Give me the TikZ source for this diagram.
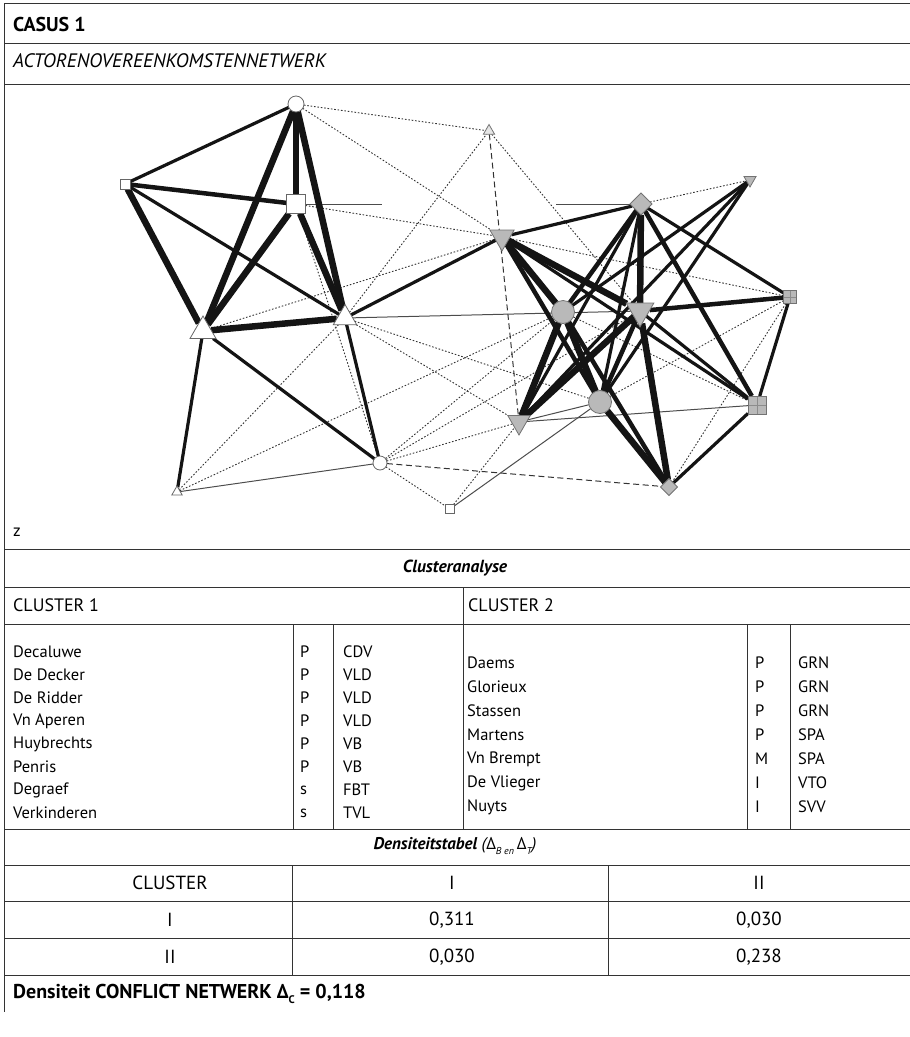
\documentclass[tikz,border=0pt]{standalone}
\usepackage{fontspec}
\setmainfont{PT Sans}
\usetikzlibrary{shapes.geometric}
\pgfdeclarelayer{bg}
\pgfsetlayers{bg,main}
\begin{document}
\begin{tikzpicture}[x=1pt,y=-1pt,
  rule/.style={draw=black!80, line width=0.9pt},
  ew1/.style={draw=black!70, line width=1pt},
  ew3/.style={draw=black!92, line width=3.2pt},
  ew4/.style={draw=black!92, line width=4.5pt},
  ew5/.style={draw=black!92, line width=6.5pt},
  edot/.style={draw=black!80, line width=0.9pt, dash pattern=on 1.6pt off 1.8pt},
  edsh/.style={draw=black!80, line width=1pt, dash pattern=on 6pt off 3.5pt},
  wnode/.style={draw=black!60, fill=white, line width=0.8pt, inner sep=0pt, outer sep=0pt},
  gnode/.style={draw=black!55, fill=gray!55, line width=0.8pt, inner sep=0pt, outer sep=0pt},
  lnode/.style={draw=black!55, fill=gray!20, line width=0.8pt, inner sep=0pt, outer sep=0pt},
  circ/.style={circle, minimum size=#1},
  sq/.style={rectangle, minimum size=#1},
  triup/.style={regular polygon, regular polygon sides=3, minimum size=#1},
  tridn/.style={regular polygon, regular polygon sides=3, shape border rotate=180, minimum size=#1},
  dia/.style={diamond, minimum size=#1},
  grid/.style={path picture={\draw[black!45, line width=0.6pt]
      (path picture bounding box.north) -- (path picture bounding box.south)
      (path picture bounding box.west) -- (path picture bounding box.east);}},
  txt/.style={font=\fontsize{16.5}{19}\selectfont, inner sep=0pt, anchor=west},
  ctxt/.style={font=\fontsize{19}{22}\selectfont, inner sep=0pt}
]
\useasboundingbox (0,0) rectangle (910,1037);

% ---------- network nodes ----------
\node[wnode, circ=16pt] (A) at (296,104) {};
\node[wnode, sq=10pt] (B) at (125,184) {};
\node[wnode, sq=19pt] (C) at (296,204) {};
\node[wnode, triup=30pt] (D) at (203,331) {};
\node[wnode, triup=27pt] (E) at (345,318) {};
\node[wnode, triup=12pt] (F) at (177,492) {};
\node[wnode, circ=14pt] (G) at (380,463) {};
\node[wnode, sq=9pt] (H) at (450,509) {};
\node[lnode, triup=13pt] (I) at (489,131) {};
\node[gnode, tridn=28pt] (J) at (502,237) {};
\node[gnode, dia=22pt] (K) at (641,204) {};
\node[gnode, tridn=14pt] (L) at (750,180) {};
\node[gnode, circ=23pt] (M) at (563,312) {};
\node[gnode, tridn=32pt] (N) at (640,311) {};
\node[gnode, sq=13pt, grid] (O) at (790,297) {};
\node[gnode, circ=23pt] (P) at (600,402) {};
\node[gnode, tridn=26pt] (Q) at (519,422) {};
\node[gnode, sq=18pt, grid] (R) at (757,405) {};
\node[gnode, dia=17pt] (S) at (669,487) {};
\coordinate (cstub) at (382,204);
\coordinate (kstub) at (556,204);

% ---------- network edges ----------
\begin{pgfonlayer}{bg}
\foreach \a/\b in {A/I, A/J, C/J, D/J, E/I, C/G, F/E, F/M, E/P, E/Q, G/M, G/N, G/Q, G/H, H/Q, I/N, J/O, K/L, O/P, O/S, M/R}
  \draw[edot] (\a) -- (\b);
\draw[edsh] (G) -- (S);
\draw[edsh] (I) -- (Q);
\foreach \a/\b in {F/G, C/cstub, kstub/K, E/N, H/P, Q/R, Q/P}
  \draw[ew1] (\a) -- (\b);
\foreach \a/\b in {A/B, B/E, D/F, D/G, E/G, E/J, J/K, K/O, K/Q, K/P, L/M, L/Q, L/P, R/O, R/S, N/R, J/R}
  \draw[ew3] (\a) -- (\b);
\foreach \a/\b in {B/C, J/P, K/M, K/R, N/O, M/S, N/P}
  \draw[ew4] (\a) -- (\b);
\foreach \a/\b in {A/C, A/D, A/E, B/D, C/D, C/E, D/E, J/M, J/N, K/N, M/Q, M/P, N/Q, N/S, P/S}
  \draw[ew5] (\a) -- (\b);
\end{pgfonlayer}

% ---------- frame and rules ----------
\coordinate (tl) at (4,3);
\coordinate (bl) at (4,1012);
\draw[rule] (tl) -- (bl);
\foreach \y in {3,43,84,549,587,624,829,865,901,938,975}
  \draw[rule] (4,\y) -- (910,\y);
\draw[rule] (463,587) -- (463,829);
\foreach \x in {293,333,747,790}
  \draw[rule] (\x,624) -- (\x,829);
\foreach \x in {292,608}
  \draw[rule] (\x,865) -- (\x,975);

% ---------- texts ----------
\node[txt, font=\fontsize{20}{24}\selectfont\bfseries] (t1) at (13,24) {CASUS 1};
\node[txt, font=\fontsize{19.5}{24}\selectfont\itshape] (t2) at (13,61) {ACTORENOVEREENKOMSTENNETWERK};
\node[txt, font=\fontsize{17}{20}\selectfont] (tz) at (13,532) {z};
\node[ctxt, font=\fontsize{17.5}{20}\selectfont\bfseries\itshape] (t3) at (455,568) {Clusteranalyse};
\node[txt, font=\fontsize{18}{20}\selectfont] (c1) at (13,605) {CLUSTER 1};
\node[txt, font=\fontsize{18}{20}\selectfont] (c2) at (468,605) {CLUSTER 2};

\foreach \n/\r/\p [count=\i from 0] in {Decaluwe/P/CDV, De Decker/P/VLD, De Ridder/P/VLD, Vn Aperen/P/VLD, Huybrechts/P/VB, Penris/P/VB, Degraef/s/FBT, Verkinderen/s/TVL}{
  \node[txt] (ln\i) at (13,652+23*\i) {\n};
  \node[txt] (lr\i) at (300,652+23*\i) {\r};
  \node[txt] (lp\i) at (343,652+23*\i) {\p};
}
\foreach \n/\r/\p [count=\i from 0] in {Daems/P/GRN, Glorieux/P/GRN, Stassen/P/GRN, Martens/P/SPA, Vn Brempt/M/SPA, De Vlieger/I/VTO, Nuyts/I/SVV}{
  \node[txt] (rn\i) at (467,663+24*\i) {\n};
  \node[txt] (rr\i) at (755,663+24*\i) {\r};
  \node[txt] (rp\i) at (798,663+24*\i) {\p};
}

\node[ctxt, font=\fontsize{17}{20}\selectfont] (t4) at (455,846) {{\bfseries\itshape Densiteitstabel} {\itshape (Δ\raisebox{-0.5ex}{\fontsize{10}{10}\selectfont B en}\,Δ\raisebox{-0.5ex}{\fontsize{10}{10}\selectfont T})}};
\node[ctxt] (h1) at (170,883) {CLUSTER};
\node[ctxt] (h2) at (452,883) {I};
\node[ctxt] (h3) at (759,883) {II};
\node[ctxt] (r1a) at (170,920) {I};
\node[ctxt] (r1b) at (452,920) {0,311};
\node[ctxt] (r1c) at (759,920) {0,030};
\node[ctxt] (r2a) at (170,957) {II};
\node[ctxt] (r2b) at (452,957) {0,030};
\node[ctxt] (r2c) at (759,957) {0,238};
\node[txt, font=\fontsize{20}{24}\selectfont\bfseries] (t5) at (13,994) {Densiteit CONFLICT NETWERK Δ\raisebox{-0.5ex}{\fontsize{11}{11}\selectfont C} = 0,118};
\end{tikzpicture}
\end{document}
